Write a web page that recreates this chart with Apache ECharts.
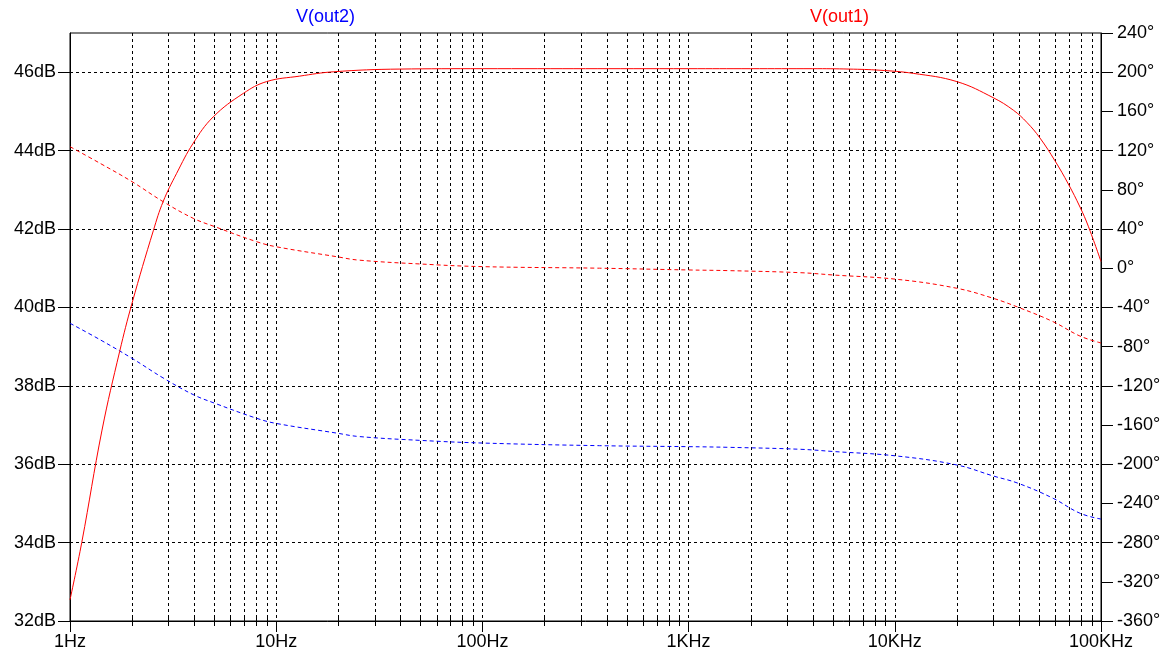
<!DOCTYPE html>
<html>
<head>
<meta charset="utf-8">
<title>V(out1) / V(out2)</title>
<script src="https://cdn.jsdelivr.net/npm/echarts@6/dist/echarts.min.js"></script>
<style>
  html, body { margin: 0; padding: 0; background: #fff; }
  #chart { width: 1170px; height: 659px; }
</style>
</head>
<body>
<div id="chart"></div>
<script>
// magnitude in dB (V(out2) has the same magnitude and is hidden under V(out1))
var magFreq = [1, 1.14, 1.43, 1.74, 2, 2.54, 2.83, 3.29, 3.96, 4.95, 6.93, 8.98, 13, 18.9, 39.8, 100, 1000, 2000, 4000, 6000, 8480, 12300, 20000, 30000, 37600, 43700, 50600, 59800, 69400, 79100, 86800, 100000];
var magDb   = [32.54, 34.0, 36.87, 38.87, 40.11, 41.97, 42.70, 43.42, 44.19, 44.86, 45.46, 45.76, 45.90, 46.01, 46.08, 46.09, 46.09, 46.09, 46.09, 46.08, 46.05, 45.97, 45.76, 45.35, 45.03, 44.72, 44.32, 43.74, 43.15, 42.56, 42.07, 41.17];

// phase in degrees
var phFreq   = [1, 1.4, 2, 2.83, 3.96, 5.05, 8.05, 10, 19.7, 25, 50, 100, 370, 1000, 1580, 3500, 5000, 10200, 20000, 30000, 39700, 58600, 79000, 100000];
var phaseOut1 = [124, 107, 88.3, 67.9, 50.9, 42.3, 27.0, 21.9, 11.7, 8.3, 4.3, 1.6, 0, -1.8, -2.5, -4.6, -6.9, -11.3, -20.5, -30.7, -39.9, -54.6, -69.2, -76.3];
var phaseOut2 = [-56.2, -73, -92, -112, -129, -137.9, -153.2, -158.4, -168.3, -171.7, -175.7, -178.4, -181.1, -182.1, -182.8, -184.8, -187, -191.6, -200.8, -212, -219.5, -234.8, -250, -256];

var dbTicks = [32, 34, 36, 38, 40, 42, 44, 46];
var minorFreqs = [];
[1, 10, 100, 1000, 10000].forEach(function (d) {
  for (var k = 2; k <= 9; k++) minorFreqs.push(d * k);
});
var decadeLabels = { 1: '1Hz', 10: '10Hz', 100: '100Hz', 1000: '1KHz', 10000: '10KHz', 100000: '100KHz' };

function pairs(xs, ys) {
  return xs.map(function (x, i) { return [x, ys[i]]; });
}

var font = 'Liberation Sans';
var myChart = echarts.init(document.getElementById('chart'));
var option = {
  animation: false,
  backgroundColor: '#fff',
  grid: { left: 70, right: 69, top: 33, bottom: 38, show: true, borderColor: '#000', borderWidth: 1 },
  graphic: [
    { type: 'text', left: 296, top: 8, style: { text: 'V(out2)', fill: '#0000ff', font: '18px ' + font } },
    { type: 'text', left: 810, top: 8, style: { text: 'V(out1)', fill: '#ff0000', font: '18px ' + font } }
  ],
  xAxis: {
    type: 'log',
    logBase: 10,
    min: 1,
    max: 100000,
    splitNumber: 5,
    axisLine: { show: true, onZero: false, lineStyle: { color: '#000', width: 1 } },
    axisTick: { show: true, length: 11, lineStyle: { color: '#000' } },
    axisLabel: {
      color: '#000', fontFamily: font, fontSize: 18, margin: 12,
      formatter: function (v) { return decadeLabels[Math.round(v)] || ''; }
    },
    splitLine: { show: true, lineStyle: { color: '#000', type: [3, 3], width: 1 } }
  },
  yAxis: [
    {
      type: 'value', min: 32, max: 47, interval: 2, position: 'left',
      axisLine: { show: true, lineStyle: { color: '#000' } },
      axisTick: { show: true, length: 12, customValues: dbTicks, lineStyle: { color: '#000' } },
      axisLabel: {
        color: '#000', fontFamily: font, fontSize: 18, margin: 14, customValues: dbTicks,
        formatter: function (v) { return v + 'dB'; }
      },
      splitLine: { show: true, lineStyle: { color: '#000', type: [3, 3], width: 1 } }
    },
    {
      type: 'value', min: -360, max: 240, interval: 40, position: 'right',
      axisLine: { show: true, lineStyle: { color: '#000' } },
      axisTick: { show: true, length: 12, lineStyle: { color: '#000' } },
      axisLabel: {
        color: '#000', fontFamily: font, fontSize: 18, margin: 16,
        formatter: function (v) { return v + '\u00b0'; }
      },
      splitLine: { show: false }
    }
  ],
  series: [
    {
      // minor grid lines inside each decade, plus the small ticks across the bottom axis
      type: 'custom',
      xAxisIndex: 0,
      yAxisIndex: 0,
      silent: true,
      z: 1,
      data: minorFreqs.map(function (f) { return [f]; }),
      renderItem: function (params, api) {
        var f = api.value(0);
        var top = api.coord([f, 47]);
        var bot = api.coord([f, 32]);
        var x = Math.round(top[0]) + 0.5;
        return {
          type: 'group',
          children: [
            { type: 'line', shape: { x1: x, y1: top[1], x2: x, y2: bot[1] },
              style: { stroke: '#000', lineWidth: 1, lineDash: [3, 3] } },
            { type: 'line', shape: { x1: x, y1: bot[1] - 4, x2: x, y2: bot[1] + 5 },
              style: { stroke: '#000', lineWidth: 1 } }
          ]
        };
      }
    },
    {
      name: 'V(out1) mag', type: 'line', yAxisIndex: 0, showSymbol: false, smooth: 0.4, z: 4,
      lineStyle: { color: '#ff0000', width: 1 },
      data: pairs(magFreq, magDb)
    },
    {
      name: 'V(out1) phase', type: 'line', yAxisIndex: 1, showSymbol: false, smooth: 0.4, z: 3,
      lineStyle: { color: '#ff0000', width: 1, type: [4, 3] },
      data: pairs(phFreq, phaseOut1)
    },
    {
      name: 'V(out2) phase', type: 'line', yAxisIndex: 1, showSymbol: false, smooth: 0.4, z: 3,
      lineStyle: { color: '#0000ff', width: 1, type: [4, 3] },
      data: pairs(phFreq, phaseOut2)
    }
  ]
};
myChart.setOption(option);
</script>
</body>
</html>
